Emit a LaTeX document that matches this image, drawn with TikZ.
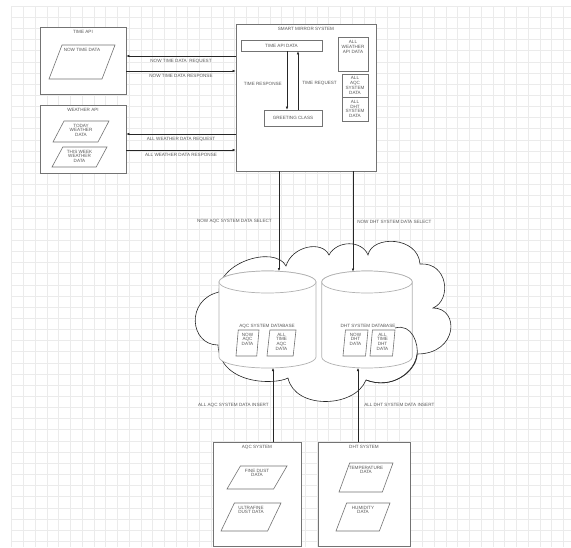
\documentclass[tikz,border=0pt]{standalone}
\usepackage{fontspec}
\setmainfont{Liberation Sans}
\usetikzlibrary{shapes.geometric,positioning,arrows.meta}

\definecolor{edge}{gray}{0.45}
\definecolor{ink}{gray}{0.35}
\definecolor{gridc}{gray}{0.92}

\tikzset{
	box/.style={draw=edge, fill=white, line width=0.7pt, inner sep=0pt},
	txt/.style={text=ink, font=\fontsize{4.6}{4.8}\selectfont, align=center, inner sep=0pt},
	para/.style={trapezium, trapezium stretches=true, trapezium left angle=72, trapezium right angle=108,
		draw=edge, fill=white, line width=0.6pt, inner sep=1pt},
	dbpara/.style={para, trapezium left angle=83, trapezium right angle=97},
	boxtitle/.style={label={[txt, anchor=north, yshift=-3.5pt]north:#1}},
	ptext/.style={label={[txt, anchor=north, yshift=-3pt]north:#1}},
	flow/.style={draw=black!85, line width=0.55pt, -{Latex[length=3pt,width=2.6pt]}},
	cyl/.style={draw=gray!60, fill=white, line width=0.7pt},
	puff/.style={draw=black!85, line width=0.6pt}
}

\begin{document}
\begin{tikzpicture}[x=1pt, y=-1pt]
	\useasboundingbox (0,0) rectangle (571,547);
	
	% grid paper
	\foreach \i in {0,...,47}
		\draw[gridc, line width=0.5pt] (11.7+11.736*\i,6) -- (11.7+11.736*\i,547);
	\foreach \j in {0,...,48}
		\draw[gridc, line width=0.5pt] (11.7,6+11.15*\j) -- (571,6+11.15*\j);
	
	% outside APIs
	\node[box, minimum width=86, minimum height=67, boxtitle={TIME API}] (timeapi) at (83,60.5) {};
	\node[para, minimum width=66, minimum height=34, ptext={NOW TIME DATA}] (nowtime) at (82,62) {};
	\node[box, minimum width=86, minimum height=68, boxtitle={WEATHER API}] (weatherapi) at (83,139) {};
	\node[para, minimum width=56, minimum height=21, ptext={TODAY\\WEATHER\\DATA}] (today) at (81,131.5) {};
	\node[para, minimum width=55, minimum height=20, ptext={THIS WEEK\\WEATHER\\DATA}] (thisweek) at (79.5,157) {};
	
	% smart mirror
	\node[box, minimum width=140, minimum height=147, boxtitle={SMART MIRROR SYSTEM}] (mirror) at (306,97.5) {};
	\node[box, txt, minimum width=81, minimum height=11] (timedata) at (281.5,45.5) {TIME API DATA};
	\node[box, txt, minimum width=58, minimum height=16] (greeting) at (293,118) {GREETING CLASS};
	\node[box, minimum width=30, minimum height=34, boxtitle={ALL\\WEATHER\\API DATA}] (allweather) at (353,54) {};
	\node[box, txt, minimum width=26, minimum height=23] (allaqc) at (355,85.5) {ALL\\AQC\\SYSTEM\\DATA};
	\node[box, txt, minimum width=26, minimum height=24] (alldht) at (355,109) {ALL\\DHT\\SYSTEM\\DATA};
	
	\draw[flow] ([xshift=5.5pt]timedata.south) -- ([xshift=5.5pt]timedata.south |- greeting.north)
		node[txt, pos=0.55, left=5pt] {TIME RESPONSE};
	\draw[flow] ([xshift=5pt]greeting.north) -- ([xshift=5pt]greeting.north |- timedata.south)
		node[txt, pos=0.45, right=4pt] {TIME REQUEST};
	
	% requests and responses to the APIs
	\coordinate (treq) at ([yshift=4.5pt]timeapi.east);
	\coordinate (tres) at ([yshift=-10.5pt]timeapi.east);
	\coordinate (wreq) at ([yshift=5pt]weatherapi.east);
	\coordinate (wres) at ([yshift=-11pt]weatherapi.east);
	\draw[flow] (treq -| mirror.west) -- (treq) node[txt, midway, below=3.5pt] {NOW TIME DATA\ \ REQUEST};
	\draw[flow] (tres) -- (tres -| mirror.west) node[txt, midway, below=3.5pt] {NOW TIME DATA RESPONSE};
	\draw[flow] (wreq -| mirror.west) -- (wreq) node[txt, midway, below=3.5pt] {ALL WEATHER DATA REQUEST};
	\draw[flow] (wres) -- (wres -| mirror.west) node[txt, midway, below=3.5pt] {ALL WEATHER DATA RESPONSE};
	
	% cloud behind the databases
	\draw[puff, fill=white] (219,292)
		.. controls (218,262) and (275,245) .. (286,266)
		.. controls (292,246) and (322,240) .. (329,255)
		.. controls (337,240) and (362,240) .. (368,255)
		.. controls (372,235) and (418,236) .. (420,264)
		.. controls (448,262) and (452,300) .. (433,308)
		.. controls (460,308) and (458,354) .. (417,354)
		.. controls (415,372) and (392,390) .. (366,380)
		.. controls (355,408) and (295,410) .. (288,378)
		.. controls (275,385) and (220,385) .. (218,345)
		.. controls (190,345) and (185,300) .. cycle;
	
	% database cylinders
	\filldraw[cyl] (219,282) -- (219,357) arc[start angle=180, end angle=0, x radius=48.5, y radius=11]
		-- (316,282) arc[start angle=0, end angle=-180, x radius=48.5, y radius=11] -- cycle;
	\draw[cyl] (267.5,282) ellipse[x radius=48.5, y radius=11];
	\filldraw[cyl] (321.7,282) -- (321.7,357) arc[start angle=180, end angle=0, x radius=45.3, y radius=11]
		-- (412.3,282) arc[start angle=0, end angle=-180, x radius=45.3, y radius=11] -- cycle;
	\draw[cyl] (367,282) ellipse[x radius=45.3, y radius=11];
	
	% cloud lobe in front of the DHT database
	\draw[puff] (395,328) .. controls (412,323) and (419,344) .. (417,356)
		.. controls (415,372) and (392,390) .. (366,380);
	
	\node[txt] (aqcdb) at (267,326) {AQC SYSTEM DATABASE};
	\node[dbpara, minimum width=23, minimum height=26, ptext={NOW\\AQC\\DATA}] (nowaqc) at (247.5,343) {};
	\node[dbpara, minimum width=29, minimum height=26, ptext={ALL\\TIME\\AQC\\DATA}] (alltimeaqc) at (281.5,343) {};
	\node[txt] (dhtdb) at (368,326) {DHT SYSTEM DATABASE};
	\node[dbpara, minimum width=25, minimum height=26, ptext={NOW\\DHT\\DATA}] (nowdht) at (355.5,343) {};
	\node[dbpara, minimum width=25, minimum height=26, ptext={ALL\\TIME\\DHT\\DATA}] (alltimedht) at (382.5,343) {};
	
	% sensor systems
	\node[box, minimum width=88, minimum height=104, boxtitle={AQC SYSTEM}] (aqcsys) at (257,494) {};
	\node[para, trapezium left angle=68, trapezium right angle=112, minimum width=60, minimum height=23,
		ptext={FINE DUST\\DATA}] (finedust) at (257,477.5) {};
	\node[para, trapezium left angle=68, trapezium right angle=112, minimum width=60, minimum height=28,
		ptext={ULTRAFINE\\DUST DATA}] (ultrafine) at (251,517) {};
	\node[box, minimum width=92, minimum height=104, boxtitle={DHT SYSTEM}] (dhtsys) at (364,494) {};
	\node[para, minimum width=54, minimum height=29, ptext={TEMPERATURE\\DATA}] (temperature) at (366,477.5) {};
	\node[para, minimum width=54, minimum height=28, ptext={HUMIDITY\\DATA}] (humidity) at (363,517) {};
	
	% select and insert
	\coordinate (aqcout) at (279,271);
	\coordinate (dhtout) at (353,271.5);
	\coordinate (aqcin) at (273,368);
	\coordinate (dhtin) at (358,368);
	\draw[flow] (mirror.south -| aqcout) -- (aqcout) node[txt, midway, left=7pt] {NOW AQC SYSTEM DATA SELECT};
	\draw[flow] (mirror.south -| dhtout) -- (dhtout) node[txt, midway, right=4pt] {NOW DHT SYSTEM DATA SELECT};
	\draw[flow] (aqcsys.north -| aqcin) -- (aqcin) node[txt, midway, left=4pt] {ALL AQC SYSTEM DATA INSERT};
	\draw[flow] (dhtsys.north -| dhtin) -- (dhtin) node[txt, midway, right=6pt] {ALL DHT SYSTEM DATA INSERT};
\end{tikzpicture}
\end{document}
